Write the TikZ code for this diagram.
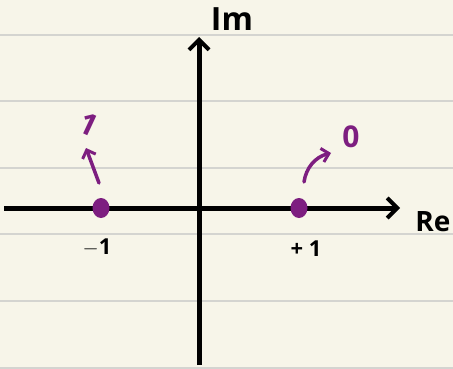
\documentclass[tikz,border=0pt]{standalone}
\usepackage{fontspec}
\setmainfont{Open Sans}
\usepackage{tikz}
\usetikzlibrary{arrows.meta,positioning,calc,shapes.geometric}
\definecolor{paper}{RGB}{247,245,233}
\definecolor{rule}{RGB}{212,212,208}
\definecolor{mPurple}{RGB}{125,30,128}

\begin{document}
\begin{tikzpicture}[x=1pt, y=-1pt,
    axis/.style={line width=5pt, -{Straight Barb[length=10pt,width=20pt,line width=4pt]}},
    pole/.style={ellipse, fill=mPurple, minimum width=17pt, minimum height=20pt, inner sep=0pt},
    tick/.style={font=\fontsize{22}{24}\selectfont\bfseries},
    flow/.style={mPurple, line width=3.5pt, line cap=round, -{Straight Barb[length=7pt,width=14pt,line width=3pt]}},
    mark label/.style={mPurple, font=\fontsize{30}{32}\selectfont\bfseries}]
    % paper background with ruled lines
    \fill[paper] (0,0) rectangle (453,369);
    \useasboundingbox (0,0) rectangle (453,369);
    \foreach \yy in {35,101,168,234,301,368}
        \draw[rule, line width=1.5pt] (0,\yy) -- (453,\yy);

    % axes
    \coordinate (xl) at (4,208);
    \coordinate (xr) at (400,208);
    \coordinate (yb) at (199,365);
    \coordinate (yt) at (199,37);
    \draw[axis] (xl) -- (xr);
    \draw[axis] (yb) -- (yt);
    \node[font=\fontsize{32}{34}\selectfont\bfseries] (im) at (232,19) {Im};
    \node[font=\fontsize{28}{30}\selectfont\bfseries] (re) at (433,222) {Re};

    % the two poles on the real axis
    \node[pole] (pm) at (101,208) {};
    \node[pole] (pp) at (299,208) {};
    \node[tick] (lm) at (97,248) {$-$1};
    \node[tick] (lp) at (306,249) {+ 1};

    % where each pole is sent
    \node[mark label, rotate=-25] (one) at (89,124) {1};
    \node[mark label] (zero) at (351,137) {0};
    \coordinate (sm) at (99,183);
    \coordinate (em) at (86,148);
    \coordinate (sp) at (304,182);
    \coordinate (ep) at (331,153);
    \draw[flow] (sm) -- (em);
    \draw[flow] (sp) .. controls (306,168) and (315,157) .. (ep);
\end{tikzpicture}
\end{document}
